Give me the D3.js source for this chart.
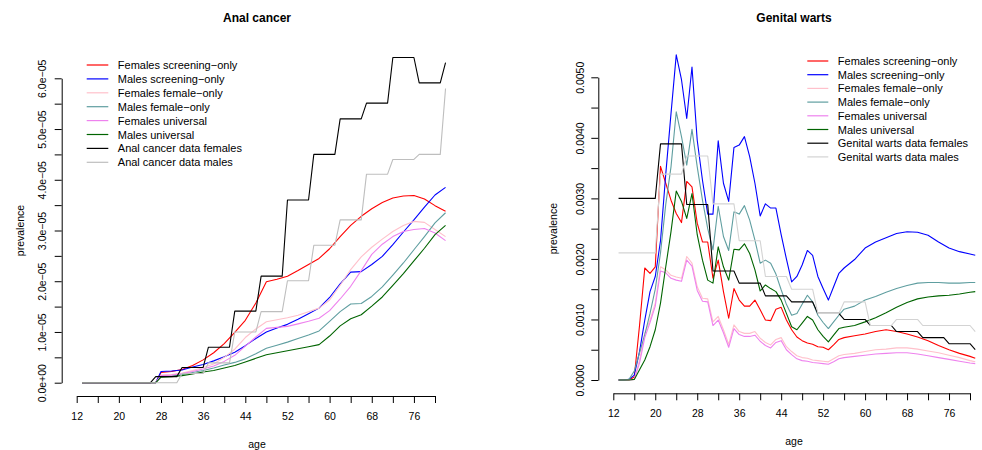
<!DOCTYPE html>
<html><head><meta charset="utf-8">
<script src="https://cdn.jsdelivr.net/npm/d3@7"></script>
<style>
body{margin:0;background:#fff;}
svg{display:block;font-family:"Liberation Sans",Arial,Helvetica,sans-serif;}
</style></head><body>
<svg id="chart" width="982" height="450"></svg>
<script>
// ---------------- DATA ----------------
const ageTicks = [12,16,20,24,28,32,36,40,44,48,52,56,60,64,68,72,76,80];
const ageTickLabels = ["12","","20","","28","","36","","44","","52","","60","","68","","76",""];

// Anal cancer panel (values in units of 1e-5)
const analUnit = 1e-5;
const analYTicks = [0,0.5,1,1.5,2,2.5,3,3.5,4,4.5,5,5.5,6];
const analYTickLabels = ["0.0e+00","","1.0e\u221205","","2.0e\u221205","","3.0e\u221205","","4.0e\u221205","","5.0e\u221205","","6.0e\u221205"];
const analAges = [13,26,27,28,30,32,34,36,38,40,42,44,46,48,50,52,54,56,58,60,62,64,66,68,70,72,74,76,78,80,82];
const analFemScreen = [0,0,0,0.20,0.22,0.26,0.34,0.45,0.59,0.77,0.99,1.23,1.57,1.99,2.04,2.10,2.21,2.33,2.45,2.64,2.88,3.10,3.28,3.43,3.55,3.64,3.68,3.69,3.62,3.49,3.38];
const analMalScreen = [0,0,0,0.22,0.23,0.25,0.31,0.36,0.43,0.51,0.60,0.73,0.87,1.00,1.08,1.15,1.25,1.36,1.47,1.68,1.95,2.18,2.19,2.33,2.49,2.72,2.97,3.21,3.46,3.70,3.85];
const analFemFemOnly = [0,0,0,0.15,0.16,0.19,0.24,0.30,0.37,0.50,0.66,0.89,1.06,1.20,1.24,1.28,1.33,1.40,1.47,1.63,1.92,2.23,2.48,2.67,2.83,2.98,3.10,3.18,3.16,3.02,2.88];
const analMalFemOnly = [0,0,0,0.12,0.13,0.16,0.20,0.24,0.29,0.35,0.40,0.47,0.57,0.68,0.74,0.80,0.87,0.94,1.02,1.21,1.40,1.55,1.56,1.70,1.89,2.12,2.36,2.62,2.88,3.15,3.35];
const analFemUniv = [0,0,0,0.14,0.15,0.18,0.22,0.27,0.33,0.42,0.54,0.72,0.90,1.07,1.09,1.11,1.16,1.21,1.27,1.42,1.65,1.90,2.21,2.53,2.73,2.88,2.98,3.02,3.04,2.95,2.80];
const analMalUniv = [0,0,0,0.11,0.12,0.14,0.17,0.21,0.24,0.29,0.34,0.41,0.48,0.55,0.59,0.63,0.67,0.71,0.75,0.92,1.12,1.26,1.34,1.51,1.69,1.92,2.15,2.40,2.65,2.92,3.10];
// observed data (step lines)
const analDataFemAges = [13,26,27,31,32,36,37,41,42,46,47,51,52,56,57,61,62,66,67,71,72,76,77,81,82];
const analDataFem     = [0,0,0.12,0.12,0.30,0.30,0.70,0.70,1.41,1.41,2.10,2.10,3.60,3.60,4.50,4.50,5.20,5.20,5.51,5.51,6.41,6.41,5.91,5.91,6.31];
const analDataMalAges = [13,31,32,36,37,41,42,46,47,51,52,56,57,61,62,66,67,71,72,76,77,81,82];
const analDataMal     = [0,0,0.18,0.18,0.39,0.39,1.00,1.00,1.40,1.40,2.01,2.01,2.71,2.71,3.21,3.21,4.11,4.11,4.40,4.40,4.50,4.50,5.80];

// Genital warts panel (values in units of 1e-3)
const gwUnit = 1e-3;
const gwYTicks = [0,0.5,1,1.5,2,2.5,3,3.5,4,4.5,5];
const gwYTickLabels = ["0.0000","","0.0010","","0.0020","","0.0030","","0.0040","","0.0050"];
const gwAges = [13,14,15,16,17,18,19,20,21,22,23,24,25,26,27,28,29,30,31,32,33,34,35,36,37,38,39,40,41,42,43,44,45,46,47,48,49,50,51,52,53,54,55,56,58,60,62,64,66,68,70,72,74,76,78,80,81];
const gwFemScreen = [0,0,0,0.05,0.90,1.85,1.76,1.87,3.53,3.25,2.97,2.75,2.60,3.28,3.19,2.59,2.28,2.28,1.68,1.98,1.46,1.02,1.51,1.32,1.22,1.22,1.32,1.16,0.99,0.98,1.17,1.20,0.99,0.83,0.71,0.65,0.61,0.59,0.55,0.54,0.50,0.58,0.67,0.70,0.73,0.76,0.80,0.83,0.80,0.76,0.71,0.65,0.57,0.50,0.44,0.39,0.36];
const gwMalScreen = [0,0,0.01,0.08,0.47,0.99,1.46,1.71,2.30,3.40,4.40,5.37,4.96,4.32,5.17,3.96,3.30,2.74,2.74,3.95,3.25,2.95,3.84,3.88,4.02,3.69,3.25,2.71,2.91,2.84,2.84,2.40,2.00,1.62,1.71,1.90,2.14,2.06,1.71,1.51,1.32,1.54,1.76,1.85,1.99,2.18,2.28,2.35,2.42,2.45,2.44,2.39,2.28,2.18,2.12,2.08,2.06];
const gwFemFemOnly = [0,0,0,0.01,0.33,0.77,0.99,1.27,1.87,1.82,1.73,1.70,1.68,2.04,1.93,1.54,1.35,1.34,0.96,1.05,0.83,0.59,0.91,0.80,0.77,0.77,0.80,0.69,0.62,0.58,0.67,0.70,0.55,0.47,0.40,0.37,0.36,0.33,0.32,0.31,0.30,0.35,0.40,0.42,0.44,0.47,0.50,0.51,0.53,0.53,0.51,0.48,0.45,0.41,0.37,0.32,0.30];
const gwMalFemOnly = [0,0,0.01,0.15,0.45,0.75,1.10,1.50,2.10,2.90,3.52,4.43,4.02,3.55,4.14,3.52,2.97,2.50,2.15,2.87,2.37,2.14,2.78,2.74,2.88,2.64,2.31,1.93,1.98,1.93,1.75,1.49,1.25,1.07,1.10,1.25,1.40,1.29,1.07,0.95,0.85,0.96,1.07,1.17,1.22,1.32,1.38,1.45,1.51,1.56,1.60,1.61,1.61,1.60,1.60,1.61,1.61];
const gwFemUniv = [0,0,0,0.01,0.28,0.70,0.95,1.22,1.80,1.77,1.68,1.65,1.63,1.98,1.88,1.48,1.30,1.29,0.90,0.99,0.78,0.54,0.85,0.75,0.72,0.72,0.74,0.64,0.57,0.53,0.62,0.65,0.50,0.42,0.35,0.32,0.31,0.29,0.28,0.27,0.26,0.30,0.35,0.37,0.39,0.41,0.43,0.44,0.45,0.45,0.43,0.40,0.37,0.34,0.31,0.28,0.27];
const gwMalUniv = [0,0,0,0.01,0.17,0.33,0.55,0.83,1.27,1.87,2.45,3.12,2.95,2.67,3.08,2.40,1.98,1.65,1.60,2.20,1.87,1.65,2.16,2.15,2.25,2.09,1.82,1.47,1.57,1.51,1.46,1.32,1.10,0.88,0.83,0.94,1.05,0.99,0.83,0.72,0.63,0.74,0.85,0.87,0.90,0.96,1.03,1.11,1.20,1.28,1.34,1.37,1.39,1.40,1.42,1.45,1.46];
const gwDataFemAges = [13,20,21,25,26,30,31,35,36,40,41,45,46,50,51,55,56,60,61,65,66,70,71,75,76,80,81];
const gwDataFem     = [3.00,3.00,3.90,3.90,2.90,2.90,1.80,1.80,1.60,1.60,1.39,1.39,1.29,1.29,1.10,1.10,1.00,1.00,0.90,0.90,0.80,0.80,0.70,0.70,0.60,0.60,0.50];
const gwDataMalAges = [13,20,21,25,26,30,31,35,36,40,41,45,46,50,51,55,56,60,61,65,66,70,71,80,81];
const gwDataMal     = [2.10,2.10,3.40,3.40,3.70,3.70,2.91,2.91,2.30,2.30,1.71,1.71,1.50,1.50,1.10,1.10,1.29,1.29,0.90,0.90,1.00,1.00,0.90,0.90,0.80];

const modelNames = ["Females screening\u2212only","Males screening\u2212only","Females female\u2212only","Males female\u2212only","Females universal","Males universal"];
const colors = ["#FF0000","#0000FF","#FFC0CB","#5F9EA0","#EE82EE","#006400"];

// ---------------- DRAW ----------------
const svg = d3.select("#chart");

function panel(cfg){
  const g = svg.append("g");
  const x = d3.scaleLinear().domain([12,80]).range(cfg.xr);
  const y = d3.scaleLinear().domain([cfg.yTicks[0], cfg.yTicks[cfg.yTicks.length-1]]).range(cfg.yr);

  // series
  const line = d3.line().x(d=>x(d[0])).y(d=>y(d[1]));
  cfg.series.forEach(s=>{
    const pts = s.ages.map((a,i)=>[a, s.vals[i]]);
    g.append("path").attr("d", line(pts)).attr("fill","none")
      .attr("stroke", s.color).attr("stroke-width",1.1).attr("stroke-linejoin","round");
  });

  // x axis
  const xa = d3.axisBottom(x).tickValues(ageTicks).tickSizeOuter(0).tickSizeInner(7)
     .tickFormat((d,i)=>ageTickLabels[i]);
  const xg = g.append("g").attr("transform",`translate(0,${cfg.xAxisY})`).call(xa);
  xg.selectAll("text").attr("y",20).attr("dy",null).attr("dominant-baseline","central")
     .style("font-size","10.5px").attr("fill","#000");
  xg.selectAll("line,path").attr("stroke","#000");
  xg.select(".domain").attr("stroke-width",1);

  // y axis
  const ya = d3.axisLeft(y).tickValues(cfg.yTicks).tickSizeOuter(0).tickSizeInner(7)
     .tickFormat((d,i)=>cfg.yTickLabels[i]);
  const yg = g.append("g").attr("transform",`translate(${cfg.yAxisX},0)`).call(ya);
  yg.selectAll("text").attr("x",null).attr("dy",null)
     .attr("transform",`translate(${cfg.yLabOff},0) rotate(-90)`)
     .attr("text-anchor","middle").attr("dominant-baseline","central")
     .style("font-size","10.5px").attr("fill","#000");
  yg.selectAll("line,path").attr("stroke","#000");

  // titles
  g.append("text").attr("x",cfg.cx).attr("y",18).attr("text-anchor","middle")
    .attr("dominant-baseline","central").style("font-weight","bold").style("font-size","12px").text(cfg.title);
  g.append("text").attr("x",cfg.cx).attr("y",cfg.ageY).attr("text-anchor","middle")
    .attr("dominant-baseline","central").style("font-size","10.5px").text("age");
  g.append("text").attr("transform",`translate(${cfg.prevX},${(cfg.yr[0]+cfg.yr[1])/2}) rotate(-90)`)
    .attr("text-anchor","middle").attr("dominant-baseline","central").style("font-size","10.5px").text("prevalence");

  // legend
  const lg = g.append("g");
  cfg.legend.forEach((L,i)=>{
    const yy = cfg.legY + i*cfg.legStep;
    lg.append("line").attr("x1",cfg.legX).attr("x2",cfg.legX+cfg.legW).attr("y1",yy).attr("y2",yy)
      .attr("stroke",L.color).attr("stroke-width",1.2);
    lg.append("text").attr("x",cfg.legX+cfg.legW+9.5).attr("y",yy).attr("dominant-baseline","central")
      .style("font-size","11px").attr("fill","#000").text(L.name);
  });
}

const analModels = [analFemScreen,analMalScreen,analFemFemOnly,analMalFemOnly,analFemUniv,analMalUniv];
const gwModels = [gwFemScreen,gwMalScreen,gwFemFemOnly,gwMalFemOnly,gwFemUniv,gwMalUniv];

panel({
  title:"Anal cancer", xr:[76.7,435], yr:[382.7,78.3], xAxisY:396, yAxisX:61.7, yLabOff:-20,
  yTicks:analYTicks.map(v=>v*analUnit), yTickLabels:analYTickLabels,
  cx:257, ageY:444, prevX:20,
  series: analModels.map((v,i)=>({ages:analAges, vals:v.map(d=>d*analUnit), color:colors[i]}))
    .concat([{ages:analDataFemAges, vals:analDataFem.map(d=>d*analUnit), color:"#000000"},
             {ages:analDataMalAges, vals:analDataMal.map(d=>d*analUnit), color:"#BEBEBE"}]),
  legend: modelNames.map((n,i)=>({name:n,color:colors[i]}))
    .concat([{name:"Anal cancer data females",color:"#000000"},{name:"Anal cancer data males",color:"#BEBEBE"}]),
  legX:86.7, legW:21.6, legY:65, legStep:13.9
});

panel({
  title:"Genital warts", xr:[613.3,970], yr:[380,77.3], xAxisY:393.3, yAxisX:598.3, yLabOff:-18,
  yTicks:gwYTicks.map(v=>v*gwUnit), yTickLabels:gwYTickLabels,
  cx:794, ageY:441, prevX:553,
  series: gwModels.map((v,i)=>({ages:gwAges, vals:v.map(d=>d*gwUnit), color:colors[i]}))
    .concat([{ages:gwDataFemAges, vals:gwDataFem.map(d=>d*gwUnit), color:"#000000"},
             {ages:gwDataMalAges, vals:gwDataMal.map(d=>d*gwUnit), color:"#D3D3D3"}]),
  legend: modelNames.map((n,i)=>({name:n,color:colors[i]}))
    .concat([{name:"Genital warts data females",color:"#000000"},{name:"Genital warts data males",color:"#D3D3D3"}]),
  legX:807.3, legW:21, legY:61, legStep:13.7
});
</script>
</body></html>
